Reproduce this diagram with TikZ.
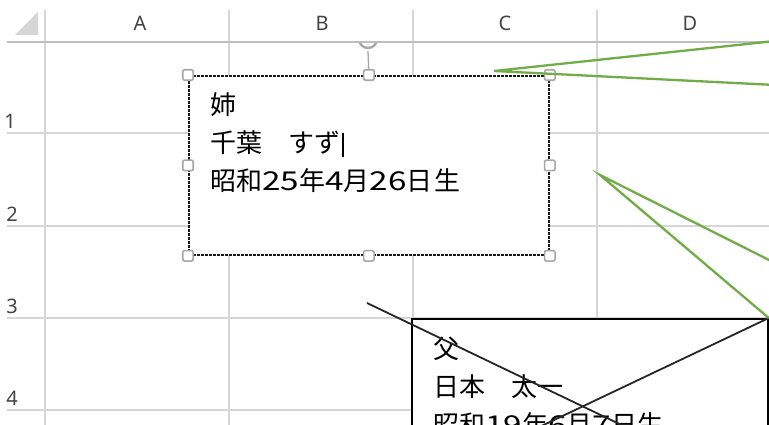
\documentclass[tikz,border=0pt]{standalone}
\usepackage{fontspec}
\newfontfamily\cjk{Noto Sans CJK JP}
\newfontfamily\cjkdig[FakeStretch=1.28]{Noto Sans CJK JP}
\newfontfamily\hdr{Noto Sans}
\newcommand\dg[1]{{\cjkdig #1}}
\definecolor{gridc}{HTML}{D6D6D6}
\definecolor{hdrline}{HTML}{BEBEBE}
\definecolor{hdrtext}{HTML}{444444}
\definecolor{callgreen}{HTML}{70AD47}
\definecolor{handlec}{HTML}{A6A6A6}
\begin{document}
\begin{tikzpicture}[x=1pt,y=-1pt,
  gridline/.style={draw=gridc,line width=1.3pt},
  hdrlabel/.style={font=\hdr\fontsize{20}{20}\selectfont,text=hdrtext,inner sep=0pt},
  rowlabel/.style={hdrlabel,anchor=base east},
  boxtext/.style={font=\cjk\fontsize{26}{26}\selectfont,anchor=base west,inner sep=0pt},
  handle/.style={draw=handlec,fill=white,line width=1.6pt,rounded corners=2pt,minimum size=10.5pt,inner sep=0pt,shape=rectangle},
  pointer/.style={draw=callgreen,line width=2.3pt,line join=miter},
  crossline/.style={draw=black!85,line width=1.8pt},
  selbox/.style={draw=black!90,fill=white,line width=1.8pt,dash pattern=on 3pt off 1pt,anchor=north west,inner sep=0pt},
  plainbox/.style={draw=black,fill=white,line width=1.8pt,anchor=north west,inner sep=0pt}
]
\useasboundingbox (0,0) rectangle (769,425);
\clip (0,0) rectangle (769,425);
\fill[white] (0,0) rectangle (769,425);
% grid
\foreach \x in {45,229,413,597} \draw[gridline] (\x,10) -- (\x,430);
\foreach \y in {133,226,318,410} \draw[gridline] (7,\y) -- (775,\y);
\draw[draw=hdrline,line width=2.2pt] (7,42) -- (775,42);
\fill[gridc] (38,12) -- (38,35) -- (15,35) -- cycle;
% headers
\node[hdrlabel] (colA) at (140,23.5) {A};
\node[hdrlabel] (colB) at (322,23.5) {B};
\node[hdrlabel] (colC) at (505,23.5) {C};
\node[hdrlabel] (colD) at (690,23.5) {D};
\node[rowlabel] (row1) at (16,129) {1};
\node[rowlabel] (row2) at (18,222) {2};
\node[rowlabel] (row3) at (18,313) {3};
\node[rowlabel] (row4) at (18,405) {4};
% father box
\node[plainbox,minimum width=356pt,minimum height=160pt] (father) at (411,318) {};
\node[boxtext] (f1) at (433,358) {父};
\node[boxtext] (f2) at (433,396) {日本　太一};
\node[boxtext] (f3) at (433,434) {昭和\dg{19}年\dg{6}月\dg{7}日生};
% crossing lines
\coordinate (xa1) at (367,303);
\coordinate (xa2) at (632,430);
\coordinate (xb1) at (father.north east);
\coordinate (xb2) at (533,430);
\draw[crossline] (xa1) -- (xa2);
\draw[crossline] (xb1) -- (xb2);
% sister box
\node[selbox,minimum width=360pt,minimum height=179pt] (sister) at (188,75) {};
\node[boxtext] (s1) at (210,115) {姉};
\node[boxtext] (s2) at (210,153) {千葉　すず};
\node[boxtext] (s3) at (210,191) {昭和\dg{25}年\dg{4}月\dg{26}日\hspace{2pt}生};
\draw[black,line width=1.3pt] (343,133) -- (343,157);
% rotation handle
\coordinate (rot) at (368,51);
\draw[handlec,line width=1.3pt] (sister.north) -- (rot);
\begin{scope}
\clip (340,43.5) rectangle (400,60);
\draw[handlec,line width=2.4pt] (368,39) circle[radius=9];
\end{scope}
% handles
\foreach \a in {north west,north,north east,west,east,south west,south,south east}
  \node[handle] at (sister.\a) {};
% green pointers
\coordinate (g1apex) at (494,71);
\coordinate (g1a) at (775,41);
\coordinate (g1b) at (775,85);
\draw[pointer] (g1a) -- (g1apex) -- (g1b);
\coordinate (g2apex) at (600,175);
\coordinate (g2a) at (775,263);
\coordinate (g2b) at (father.north east);
\draw[pointer] (g2a) -- (g2apex) -- (g2b);
\end{tikzpicture}
\end{document}
